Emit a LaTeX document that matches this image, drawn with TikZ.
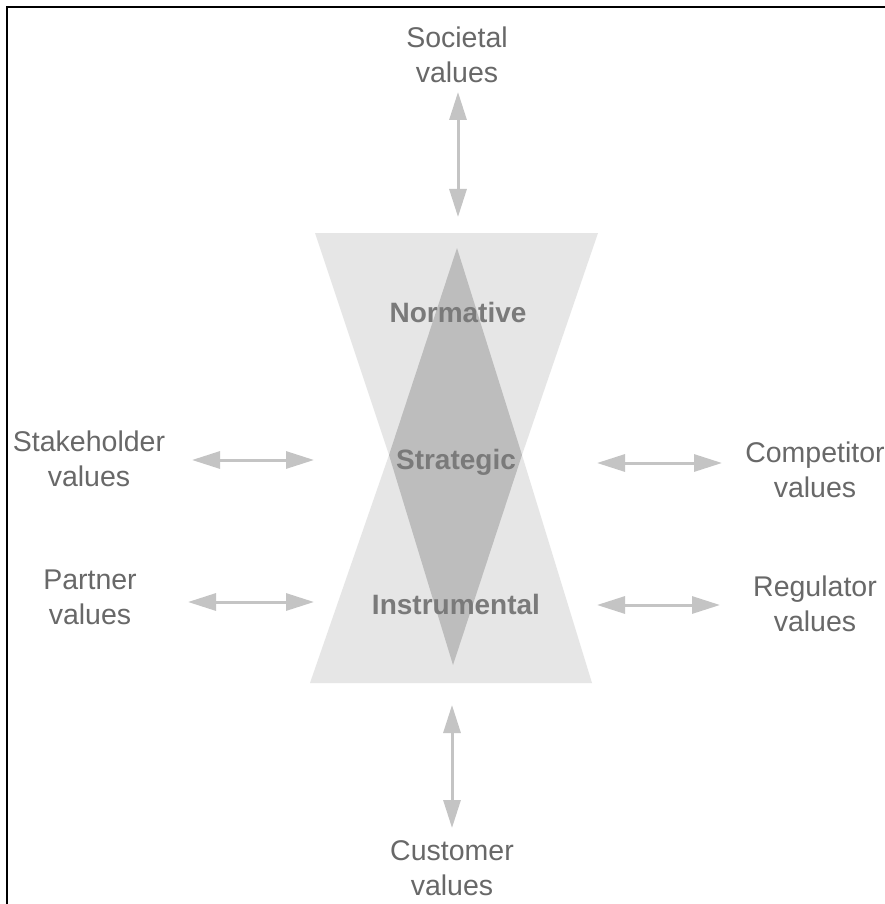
\documentclass[tikz,border=0pt]{standalone}
\usepackage{fontspec}
\setmainfont{Liberation Sans}
\usetikzlibrary{arrows.meta}
\definecolor{hourglass}{HTML}{E6E6E6}
\definecolor{diamondc}{HTML}{BDBDBD}
\definecolor{lbl}{HTML}{686868}
\definecolor{inner}{HTML}{7A7A7A}
\definecolor{arrc}{HTML}{C4C4C4}
\begin{document}
\begin{tikzpicture}[x=1pt,y=-1pt,
  outerlbl/.style={text=lbl,align=center,font=\fontsize{28.5}{35}\selectfont,inner sep=0pt},
  innerlbl/.style={text=inner,font=\bfseries\fontsize{28}{34}\selectfont,inner sep=0pt},
  valarrow/.style={draw=arrc,line width=3pt,{Triangle[length=28pt,width=17pt]}-{Triangle[length=28pt,width=17pt]}}]
\useasboundingbox (0,0) rectangle (885,904);
\fill[white] (0,0) rectangle (885,904);
% border
\draw[line width=2.5pt,black] (7,904) -- (7,7) -- (885,7);
% hourglass
\fill[hourglass] (315,233) -- (598,233) -- (522,455) -- (592,683) -- (310,683) -- (389,455) -- cycle;
% diamond
\fill[diamondc] (457,248) -- (522,455) -- (453,665) -- (389,455) -- cycle;
% inner labels
\node[innerlbl] (norm) at (458,312) {Normative};
\node[innerlbl] (strat) at (456,462) {Strategic};
\node[innerlbl] (instr) at (456,604) {Instrumental};
% outer labels
\node[outerlbl] (soc) at (457,55) {Societal\\values};
\node[outerlbl] (stake) at (89,459) {Stakeholder\\values};
\node[outerlbl] (part) at (90,597) {Partner\\values};
\node[outerlbl] (comp) at (815,470) {Competitor\\values};
\node[outerlbl] (reg) at (815,604) {Regulator\\values};
\node[outerlbl] (cust) at (452,868) {Customer\\values};
% arrow end points
\coordinate (socA) at (458,92);
\coordinate (socB) at (458,217);
\coordinate (stakeA) at (192,460);
\coordinate (stakeB) at (314,460);
\coordinate (partA) at (188,602);
\coordinate (partB) at (314,602);
\coordinate (compA) at (597,463);
\coordinate (compB) at (722,463);
\coordinate (regA) at (597,605);
\coordinate (regB) at (720,605);
\coordinate (custA) at (452,705);
\coordinate (custB) at (452,828);
\draw[valarrow] (socA) -- (socB);
\draw[valarrow] (stakeA) -- (stakeB);
\draw[valarrow] (partA) -- (partB);
\draw[valarrow] (compA) -- (compB);
\draw[valarrow] (regA) -- (regB);
\draw[valarrow] (custA) -- (custB);
\end{tikzpicture}
\end{document}
